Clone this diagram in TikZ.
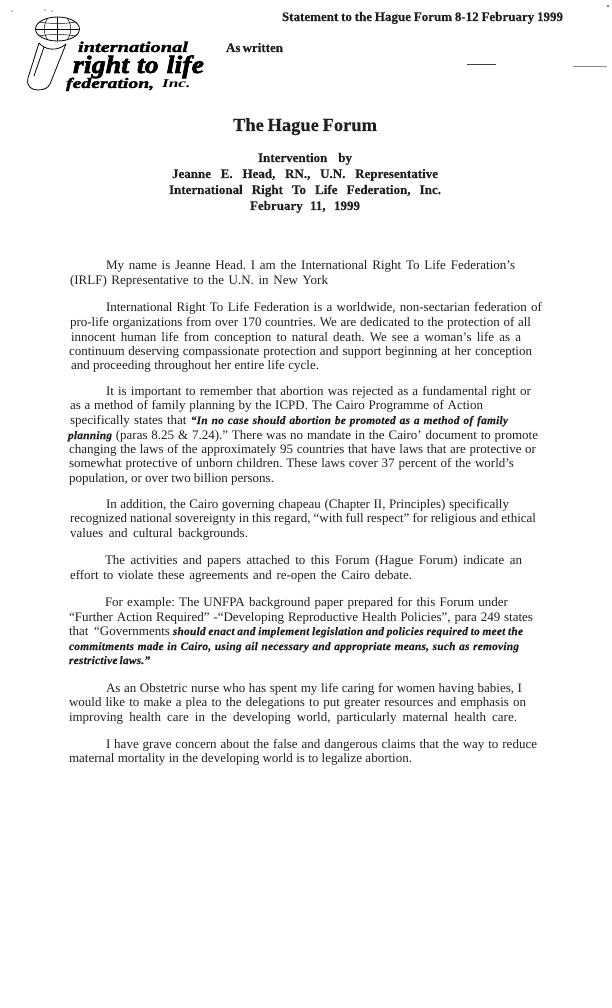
\documentclass[tikz,border=0pt]{standalone}
\usepackage{fontspec}
\setmainfont{Liberation Serif}
\newfontfamily\heavyit[FakeBold=2,FakeStretch=1.36]{Liberation Serif Bold Italic}
\newfontfamily\heavyitb[FakeBold=2.6,FakeStretch=1.12]{Liberation Serif Bold Italic}
\newfontfamily\incfont[FakeStretch=1.45]{Liberation Serif Bold Italic}
\newfontfamily\midit[FakeBold=0.3,LetterSpace=2]{Liberation Serif Bold Italic}
\newfontfamily\semibold[FakeBold=0.2]{Liberation Serif Bold}
\newcommand{\txtline}[5]{\node[ln] (#1) at (#2,#3) {\frenchspacing\makebox[#4pt][s]{#5}};}
\newcommand{\bodyq}[1]{{\fontsize{11.4}{13}\midit #1}}
\tikzset{
  ln/.style={anchor=base west,inner sep=0pt,outer sep=0pt,font=\fontsize{13}{14}\selectfont,text=black!88},
  hd/.style={ln,font=\fontsize{13}{14}\selectfont\semibold},
  ttl/.style={ln,font=\fontsize{18.5}{20}\selectfont\semibold},
  logo/.style={line width=0.8pt,draw=black},
  grid/.style={line width=0.5pt,draw=black},
  logotext/.style={anchor=base west,inner sep=0pt,outer sep=0pt,text=black},
  rulemark/.style={line width=0.6pt}
}
\begin{document}
\begin{tikzpicture}[x=1pt,y=-1pt]
\useasboundingbox (0,0) rectangle (612,1008);
% header
\node[hd] (hdr) at (282,21) {\frenchspacing\makebox[281pt][s]{Statement to the Hague Forum 8-12 February 1999}};
\node[hd] (asw) at (226,52) {\makebox[56pt][s]{As written}};
\node[ttl] (ttl) at (233,131) {\makebox[144pt][s]{The Hague Forum}};
\node[hd] (t1) at (258,162) {\makebox[94pt][s]{Intervention  by}};
\node[hd] (t2) at (172,178) {\frenchspacing\makebox[266pt][s]{Jeanne E. Head, RN., U.N. Representative}};
\node[hd] (t3) at (169,194) {\frenchspacing\makebox[272pt][s]{International Right To Life Federation, Inc.}};
\node[hd] (t4) at (250,210) {\makebox[110pt][s]{February 11, 1999}};
% logo
\draw[logo] (57.5,29) ellipse [x radius=22,y radius=12];
\draw[grid] (35.5,29) -- (79.5,29);
\draw[grid] (39,22) .. controls (50,24) and (65,24) .. (76,22);
\draw[grid] (39,36) .. controls (50,34) and (65,34) .. (76,36);
\draw[grid] (57.5,17) -- (57.5,41);
\draw[grid] (48,18) .. controls (43,24) and (43,34) .. (48,40);
\draw[grid] (67,18) .. controls (72,24) and (72,34) .. (67,40);
\draw[logo] (39,43) .. controls (45,50) and (57,52) .. (66,44);
\draw[logo] (39,43) -- (28,78) .. controls (26,87) and (32,90) .. (38,90) .. controls (44,90) and (48,88) .. (50,84) -- (66,44);
\draw[logo] (44,47) -- (34,76);
\draw[logo] (73,78) -- (67,85);
\node[logotext,font=\fontsize{15}{16}\selectfont\heavyit] (lg1) at (78,52) {\makebox[110pt][s]{international}};
\node[logotext,font=\fontsize{25}{26}\selectfont\heavyitb] (lg2) at (73,73) {\makebox[131pt][s]{right to life}};
\node[logotext,font=\fontsize{14.5}{16}\selectfont\heavyit] (lg3) at (66,88) {federation,};
\node[logotext,font=\fontsize{12}{13}\selectfont\incfont] (lg4) at (162,88) {Inc.};
% marks
\fill (12,11) circle (0.7);
\fill (45,10) circle (0.7);
\fill (52,11) circle (0.7);
\fill (608,6) circle (0.8);
\coordinate (ra) at (467,64); \coordinate (rb) at (496,64);
\coordinate (rc) at (573,66); \coordinate (rd) at (607,66);
\draw[rulemark,draw=black!75] (ra) -- (rb);
\draw[rulemark,draw=black!45] (rc) -- (rd);
% body
\txtline{a1}{106}{269}{409}{My name is Jeanne Head. I am the International Right To Life Federation’s}
\txtline{a2}{70}{284}{258}{(IRLF) Representative to the U.N. in New York}
\txtline{b1}{106}{311}{436}{International Right To Life Federation is a worldwide, non-sectarian federation of}
\txtline{b2}{70}{326}{461}{pro-life organizations from over 170 countries. We are dedicated to the protection of all}
\txtline{b3}{71}{341}{450}{innocent human life from conception to natural death. We see a woman’s life as a}
\txtline{b4}{69}{355}{463}{continuum deserving compassionate protection and support beginning at her conception}
\txtline{b5}{71}{369}{248}{and proceeding throughout her entire life cycle.}
\txtline{c1}{106}{395}{425}{It is important to remember that abortion was rejected as a fundamental right or}
\txtline{c2}{70}{409}{413}{as a method of family planning by the ICPD. The Cairo Programme of Action}
\txtline{c3}{70}{424}{438}{specifically states that \bodyq{“In no case should abortion be promoted as a method of family}}
\txtline{c4}{68}{439}{470}{\bodyq{planning} (paras 8.25 \& 7.24).” There was no mandate in the Cairo’ document to promote}
\txtline{c5}{69}{453}{467}{changing the laws of the approximately 95 countries that have laws that are protective or}
\txtline{c6}{69}{467}{445}{somewhat protective of unborn children. These laws cover 37 percent of the world’s}
\txtline{c7}{69}{482}{205}{population, or over two billion persons.}
\txtline{d1}{106}{508}{403}{In addition, the Cairo governing chapeau (Chapter II, Principles) specifically}
\txtline{d2}{70}{522}{466}{recognized national sovereignty in this regard, “with full respect” for religious and ethical}
\txtline{d3}{70}{537}{178}{values and cultural backgrounds.}
\txtline{e1}{105}{564}{417}{The activities and papers attached to this Forum (Hague Forum) indicate an}
\txtline{e2}{70}{579}{342}{effort to violate these agreements and re-open the Cairo debate.}
\txtline{f1}{105}{606}{403}{For example: The UNFPA background paper prepared for this Forum under}
\txtline{f2}{69}{621}{464}{“Further Action Required” -“Developing Reproductive Health Policies”, para 249 states}
\txtline{f3}{69}{635}{454}{that \ “Governments \bodyq{should enact and implement legislation and policies required to meet the}}
\txtline{f4}{69}{650}{450}{\bodyq{commitments made in Cairo, using ail necessary and appropriate means, such as removing}}
\txtline{f5}{69}{664}{75}{\bodyq{restrictive laws.”}}
\txtline{g1}{106}{692}{416}{As an Obstetric nurse who has spent my life caring for women having babies, I}
\txtline{g2}{69}{706}{457}{would like to make a plea to the delegations to put greater resources and emphasis on}
\txtline{g3}{69}{721}{448}{improving health care in the developing world, particularly maternal health care.}
\txtline{h1}{106}{748}{431}{I have grave concern about the false and dangerous claims that the way to reduce}
\txtline{h2}{69}{762}{343}{maternal mortality in the developing world is to legalize abortion.}
\end{tikzpicture}
\end{document}
